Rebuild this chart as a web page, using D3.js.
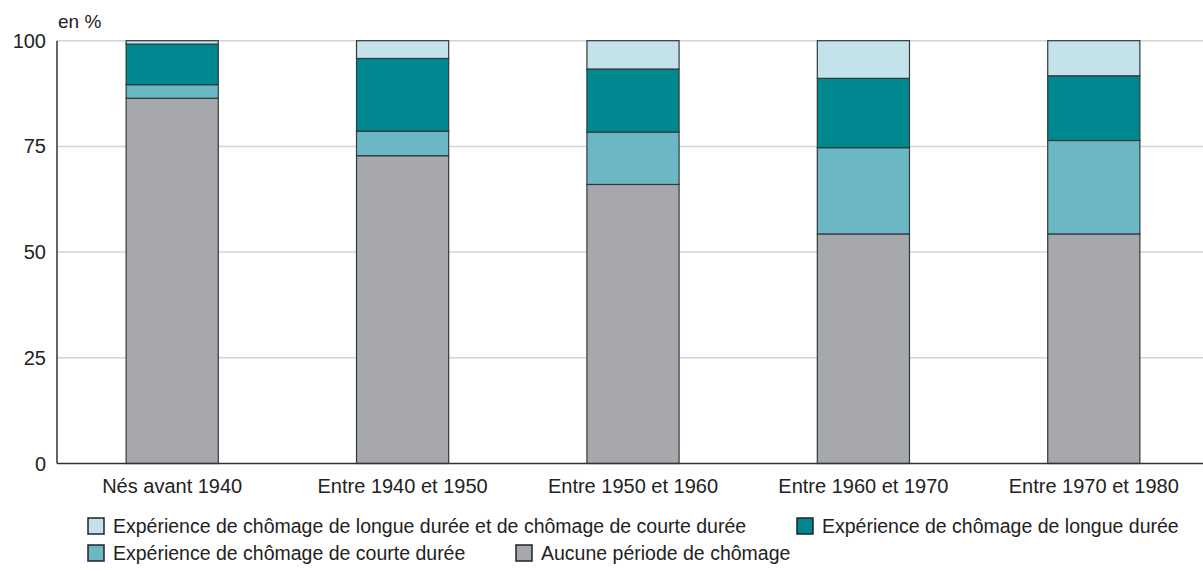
<!DOCTYPE html>
<html>
<head>
<meta charset="utf-8">
<style>
  body { margin: 0; background: #fff; }
  text { font-family: "Liberation Sans Narrow", "Liberation Sans", Arial, sans-serif; fill: #222; }
</style>
</head>
<body>
<svg width="1203" height="571"></svg>
<script src="https://d3js.org/d3.v7.min.js"></script>
<script>
// values, in %
var categories = ["Nés avant 1940", "Entre 1940 et 1950", "Entre 1950 et 1960", "Entre 1960 et 1970", "Entre 1970 et 1980"];
var aucune  = [86.4, 72.8, 66.0, 54.3, 54.3];
var courte  = [3.2, 5.8, 12.4, 20.4, 22.1];
var longue  = [9.6, 17.2, 14.9, 16.4, 15.3];
var les2    = [0.8, 4.2, 6.7, 8.9, 8.3];
var yTicks  = [0, 25, 50, 75, 100];

var seriesNames = [
  "Aucune période de chômage",
  "Expérience de chômage de courte durée",
  "Expérience de chômage de longue durée",
  "Expérience de chômage de longue durée et de chômage de courte durée"
];
var colors = ["#a7a8ab", "#6bb8c4", "#008891", "#c3e2ea"];

var svg = d3.select("svg");
var mLeft = 57, mRight = 1209, mTop = 40.7, mBottom = 463.5;

var table = categories.map(function(c, i) {
  return { cat: c, s0: aucune[i], s1: courte[i], s2: longue[i], s3: les2[i] };
});
var stack = d3.stack().keys(["s0", "s1", "s2", "s3"])(table);

var x = d3.scaleBand().domain(categories).range([mLeft, mRight]).paddingInner(0.6).paddingOuter(0.3);
var y = d3.scaleLinear().domain([0, 100]).range([mBottom, mTop]);

// gridlines
svg.append("g").selectAll("line").data(yTicks.filter(function(d) { return d > 0; }))
  .enter().append("line")
  .attr("x1", mLeft).attr("x2", 1203)
  .attr("y1", function(d) { return y(d); }).attr("y2", function(d) { return y(d); })
  .attr("stroke", "#d4d4d4").attr("stroke-width", 1.5);

// y tick labels
svg.append("g").selectAll("text").data(yTicks).enter().append("text")
  .attr("x", 46).attr("y", function(d) { return y(d) + 7; })
  .attr("text-anchor", "end").style("font-size", "20px")
  .text(function(d) { return d; });

svg.append("text").attr("x", 58).attr("y", 28).style("font-size", "19px").text("en %");

// bars
svg.append("g").selectAll("g").data(stack).enter().append("g")
  .attr("fill", function(d, i) { return colors[i]; })
  .selectAll("rect").data(function(d) { return d; }).enter().append("rect")
  .attr("x", function(d) { return x(d.data.cat); })
  .attr("width", x.bandwidth())
  .attr("y", function(d) { return y(d[1]); })
  .attr("height", function(d) { return y(d[0]) - y(d[1]); })
  .attr("stroke", "#2f3a3c").attr("stroke-width", 1.2);

// axes lines
svg.append("line").attr("x1", mLeft).attr("x2", mLeft).attr("y1", mTop).attr("y2", mBottom)
  .attr("stroke", "#333").attr("stroke-width", 1.5);
svg.append("line").attr("x1", mLeft).attr("x2", 1203).attr("y1", mBottom).attr("y2", mBottom)
  .attr("stroke", "#333").attr("stroke-width", 1.5);

// category labels
svg.append("g").selectAll("text").data(categories).enter().append("text")
  .attr("x", function(d) { return x(d) + x.bandwidth() / 2; })
  .attr("y", 493).attr("text-anchor", "middle").style("font-size", "20px")
  .text(function(d) { return d; });

// legend
var legend = [
  { i: 3, x: 88, y: 518 },
  { i: 2, x: 797, y: 518 },
  { i: 1, x: 88, y: 545 },
  { i: 0, x: 516, y: 545 }
];
var lg = svg.append("g").selectAll("g").data(legend).enter().append("g")
  .attr("transform", function(d) { return "translate(" + d.x + "," + d.y + ")"; });
lg.append("rect").attr("width", 16).attr("height", 16)
  .attr("fill", function(d) { return colors[d.i]; })
  .attr("stroke", "#222").attr("stroke-width", 1.5);
lg.append("text").attr("x", 25).attr("y", 15).style("font-size", "19.5px")
  .text(function(d) { return seriesNames[d.i]; });
</script>
</body>
</html>
